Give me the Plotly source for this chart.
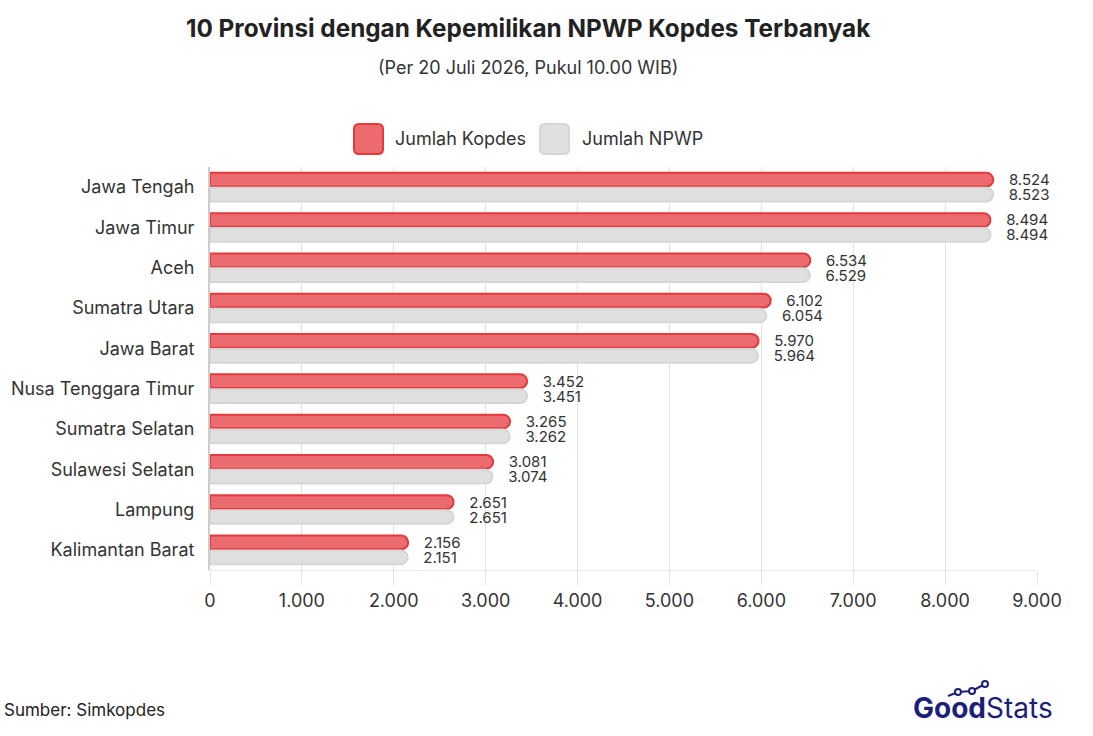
import plotly.graph_objects as go

provinces = ["Jawa Tengah", "Jawa Timur", "Aceh", "Sumatra Utara", "Jawa Barat",
             "Nusa Tenggara Timur", "Sumatra Selatan", "Sulawesi Selatan",
             "Lampung", "Kalimantan Barat"]
kopdes = [8524, 8494, 6534, 6102, 5970, 3452, 3265, 3081, 2651, 2156]
npwp = [8523, 8494, 6529, 6054, 5964, 3451, 3262, 3074, 2651, 2151]
series_names = ["Jumlah Kopdes", "Jumlah NPWP"]
x_ticks = list(range(0, 9001, 1000))

FONT = "Inter"
TXT = "#333333"
RED_FILL = "#ec6b6e"
RED_LINE = "#e4393d"
GRAY_FILL = "#e0e0e0"
GRAY_LINE = "#d6d6d6"

W, H = 1093, 736
ML, MR, MT, MB = 210, 56, 167, 166

fig = go.Figure()
for vals, name, fill, line in [(kopdes, series_names[0], RED_FILL, RED_LINE),
                               (npwp, series_names[1], GRAY_FILL, GRAY_LINE)]:
    fig.add_trace(go.Bar(
        y=provinces, x=vals, orientation="h", name=name,
        marker=dict(color=fill, line=dict(color=line, width=2)),
        texttemplate="&nbsp;&nbsp;&nbsp;%{x:,}", textposition="outside", constraintext="none",
        textfont=dict(size=15, color=TXT, family=FONT), cliponaxis=False,
        showlegend=False,
    ))

fig.update_layout(
    width=W, height=H,
    margin=dict(l=ML, r=MR, t=MT, b=MB, autoexpand=False),
    paper_bgcolor="white", plot_bgcolor="white",
    font=dict(family=FONT, color=TXT),
    separators=",.",
    barmode="group", bargap=0.26, bargroupgap=0.08,
    barcornerradius="50%",
    showlegend=False,
)
fig.update_xaxes(
    range=[0, 9000], tickvals=x_ticks, tickformat=",d",
    showgrid=True, gridcolor="#e3e3e3", gridwidth=1,
    ticks="outside", ticklen=14, tickcolor="#e3e3e3",
    showline=True, linecolor="#ececec", linewidth=1,
    tickfont=dict(size=18, color=TXT, family=FONT),
    zeroline=False, automargin=False,
)
fig.update_yaxes(
    autorange="reversed",
    showline=True, linecolor="#cccccc", linewidth=2,
    tickfont=dict(size=18, color=TXT, family=FONT),
    ticks="", ticklabelstandoff=10, automargin=False,
)


def px_to_paper(x, y):
    pw = W - ML - MR
    ph = H - MT - MB
    return (x - ML) / pw, (H - MB - y) / ph


tx, ty = px_to_paper(528, 28)
fig.add_annotation(text="<b>10 Provinsi dengan Kepemilikan NPWP Kopdes Terbanyak</b>",
                   xref="paper", yref="paper", x=tx, y=ty, xanchor="center", yanchor="middle",
                   showarrow=False, font=dict(size=24.3, color="#222222", family=FONT))
sx, sy = px_to_paper(528, 67)
fig.add_annotation(text="(Per 20 Juli 2026, Pukul 10.00 WIB)",
                   xref="paper", yref="paper", x=sx, y=sy, xanchor="center", yanchor="middle",
                   showarrow=False, font=dict(size=18, color=TXT, family=FONT))


def rounded_rect(x0, y0, x1, y1, rx, ry):
    return (f"M{x0+rx},{y0} L{x1-rx},{y0} Q{x1},{y0} {x1},{y0+ry} L{x1},{y1-ry} "
            f"Q{x1},{y1} {x1-rx},{y1} L{x0+rx},{y1} Q{x0},{y1} {x0},{y1-ry} "
            f"L{x0},{y0+ry} Q{x0},{y0} {x0+rx},{y0} Z")


pw = W - ML - MR
ph = H - MT - MB
legend_items = [(354, 393, RED_FILL, RED_LINE), (540, 580, GRAY_FILL, GRAY_LINE)]
for (bx, tx_, fill, line), name in zip(legend_items, series_names):
    p0 = px_to_paper(bx, 124)
    p1 = px_to_paper(bx + 29, 154)
    fig.add_shape(type="path", xref="paper", yref="paper",
                  path=rounded_rect(p0[0], p1[1], p1[0], p0[1], 5 / pw, 5 / ph),
                  fillcolor=fill, line=dict(color=line, width=2), layer="above")
    lx, ly = px_to_paper(tx_, 138)
    fig.add_annotation(text=name, xref="paper", yref="paper", x=lx, y=ly,
                       xanchor="left", yanchor="middle", showarrow=False,
                       font=dict(size=18, color=TXT, family=FONT))

srx, sry = px_to_paper(2, 710)
fig.add_annotation(text="Sumber: Simkopdes", xref="paper", yref="paper", x=srx, y=sry,
                   xanchor="left", yanchor="middle", showarrow=False,
                   font=dict(size=17, color="#222222", family=FONT))

# Logo
NAVY = "#1c1f7a"
lgx, lgy = px_to_paper(911, 708)
fig.add_annotation(text="<b>Good</b>Stats", xref="paper", yref="paper", x=lgx, y=lgy,
                   xanchor="left", yanchor="middle", showarrow=False,
                   font=dict(size=28, color=NAVY, family=FONT))
pts = [(948, 696), (958, 692), (972, 691), (985, 684)]
ppts = [px_to_paper(a, b) for a, b in pts]
fig.add_shape(type="path", xref="paper", yref="paper",
              path="M" + " L".join(f"{a},{b}" for a, b in ppts),
              line=dict(color=NAVY, width=2))
for a, b in ppts[1:]:
    r_x, r_y = 3 / pw, 3 / ph
    fig.add_shape(type="path", xref="paper", yref="paper",
                  path=rounded_rect(a - r_x, b - r_y, a + r_x, b + r_y, r_x, r_y),
                  fillcolor="white", line=dict(color=NAVY, width=2))

fig.write_html("out.html")
